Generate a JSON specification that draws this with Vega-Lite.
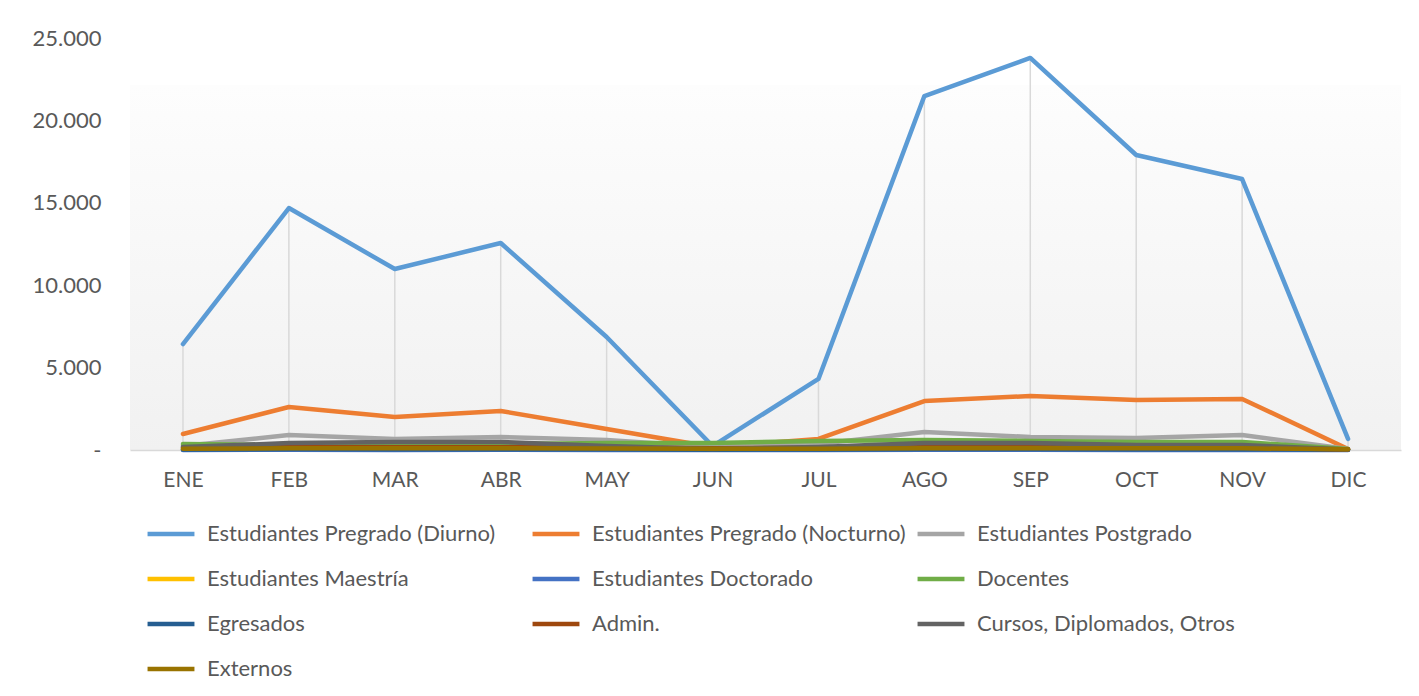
{
  "$schema": "https://vega.github.io/schema/vega-lite/v6.json",
  "width": 1271,
  "height": 412,
  "autosize": {"type": "none"},
  "padding": {"left": 130, "top": 38, "right": 18, "bottom": 246},
  "background": "#ffffff",
  "config": {
    "font": "Lato",
    "view": {
      "stroke": null,
      "fill": {"gradient": "linear", "x1": 0, "y1": 0, "x2": 0, "y2": 1,
        "stops": [
          {"offset": 0, "color": "#ffffff"},
          {"offset": 0.113, "color": "#ffffff"},
          {"offset": 0.115, "color": "#fdfdfd"},
          {"offset": 1, "color": "#f1f1f1"}
        ]}
    }
  },
  "data": {"values": [
    {"mes":"ENE","serie":"Estudiantes Pregrado (Diurno)","valor":6430},
    {"mes":"FEB","serie":"Estudiantes Pregrado (Diurno)","valor":14680},
    {"mes":"MAR","serie":"Estudiantes Pregrado (Diurno)","valor":10980},
    {"mes":"ABR","serie":"Estudiantes Pregrado (Diurno)","valor":12560},
    {"mes":"MAY","serie":"Estudiantes Pregrado (Diurno)","valor":6860},
    {"mes":"JUN","serie":"Estudiantes Pregrado (Diurno)","valor":240},
    {"mes":"JUL","serie":"Estudiantes Pregrado (Diurno)","valor":4310},
    {"mes":"AGO","serie":"Estudiantes Pregrado (Diurno)","valor":21480},
    {"mes":"SEP","serie":"Estudiantes Pregrado (Diurno)","valor":23790},
    {"mes":"OCT","serie":"Estudiantes Pregrado (Diurno)","valor":17900},
    {"mes":"NOV","serie":"Estudiantes Pregrado (Diurno)","valor":16440},
    {"mes":"DIC","serie":"Estudiantes Pregrado (Diurno)","valor":670},
    {"mes":"ENE","serie":"Estudiantes Pregrado (Nocturno)","valor":970},
    {"mes":"FEB","serie":"Estudiantes Pregrado (Nocturno)","valor":2610},
    {"mes":"MAR","serie":"Estudiantes Pregrado (Nocturno)","valor":2000},
    {"mes":"ABR","serie":"Estudiantes Pregrado (Nocturno)","valor":2370},
    {"mes":"MAY","serie":"Estudiantes Pregrado (Nocturno)","valor":1275},
    {"mes":"JUN","serie":"Estudiantes Pregrado (Nocturno)","valor":180},
    {"mes":"JUL","serie":"Estudiantes Pregrado (Nocturno)","valor":670},
    {"mes":"AGO","serie":"Estudiantes Pregrado (Nocturno)","valor":2970},
    {"mes":"SEP","serie":"Estudiantes Pregrado (Nocturno)","valor":3280},
    {"mes":"OCT","serie":"Estudiantes Pregrado (Nocturno)","valor":3035},
    {"mes":"NOV","serie":"Estudiantes Pregrado (Nocturno)","valor":3100},
    {"mes":"DIC","serie":"Estudiantes Pregrado (Nocturno)","valor":60},
    {"mes":"ENE","serie":"Estudiantes Postgrado","valor":240},
    {"mes":"FEB","serie":"Estudiantes Postgrado","valor":910},
    {"mes":"MAR","serie":"Estudiantes Postgrado","valor":670},
    {"mes":"ABR","serie":"Estudiantes Postgrado","valor":790},
    {"mes":"MAY","serie":"Estudiantes Postgrado","valor":600},
    {"mes":"JUN","serie":"Estudiantes Postgrado","valor":180},
    {"mes":"JUL","serie":"Estudiantes Postgrado","valor":360},
    {"mes":"AGO","serie":"Estudiantes Postgrado","valor":1090},
    {"mes":"SEP","serie":"Estudiantes Postgrado","valor":790},
    {"mes":"OCT","serie":"Estudiantes Postgrado","valor":730},
    {"mes":"NOV","serie":"Estudiantes Postgrado","valor":910},
    {"mes":"DIC","serie":"Estudiantes Postgrado","valor":60},
    {"mes":"ENE","serie":"Estudiantes Maestría","valor":40},
    {"mes":"FEB","serie":"Estudiantes Maestría","valor":50},
    {"mes":"MAR","serie":"Estudiantes Maestría","valor":50},
    {"mes":"ABR","serie":"Estudiantes Maestría","valor":50},
    {"mes":"MAY","serie":"Estudiantes Maestría","valor":40},
    {"mes":"JUN","serie":"Estudiantes Maestría","valor":20},
    {"mes":"JUL","serie":"Estudiantes Maestría","valor":30},
    {"mes":"AGO","serie":"Estudiantes Maestría","valor":50},
    {"mes":"SEP","serie":"Estudiantes Maestría","valor":50},
    {"mes":"OCT","serie":"Estudiantes Maestría","valor":40},
    {"mes":"NOV","serie":"Estudiantes Maestría","valor":40},
    {"mes":"DIC","serie":"Estudiantes Maestría","valor":10},
    {"mes":"ENE","serie":"Estudiantes Doctorado","valor":5},
    {"mes":"FEB","serie":"Estudiantes Doctorado","valor":10},
    {"mes":"MAR","serie":"Estudiantes Doctorado","valor":5},
    {"mes":"ABR","serie":"Estudiantes Doctorado","valor":10},
    {"mes":"MAY","serie":"Estudiantes Doctorado","valor":5},
    {"mes":"JUN","serie":"Estudiantes Doctorado","valor":0},
    {"mes":"JUL","serie":"Estudiantes Doctorado","valor":5},
    {"mes":"AGO","serie":"Estudiantes Doctorado","valor":10},
    {"mes":"SEP","serie":"Estudiantes Doctorado","valor":10},
    {"mes":"OCT","serie":"Estudiantes Doctorado","valor":5},
    {"mes":"NOV","serie":"Estudiantes Doctorado","valor":5},
    {"mes":"DIC","serie":"Estudiantes Doctorado","valor":0},
    {"mes":"ENE","serie":"Docentes","valor":360},
    {"mes":"FEB","serie":"Docentes","valor":300},
    {"mes":"MAR","serie":"Docentes","valor":300},
    {"mes":"ABR","serie":"Docentes","valor":360},
    {"mes":"MAY","serie":"Docentes","valor":420},
    {"mes":"JUN","serie":"Docentes","valor":420},
    {"mes":"JUL","serie":"Docentes","valor":550},
    {"mes":"AGO","serie":"Docentes","valor":600},
    {"mes":"SEP","serie":"Docentes","valor":550},
    {"mes":"OCT","serie":"Docentes","valor":485},
    {"mes":"NOV","serie":"Docentes","valor":485},
    {"mes":"DIC","serie":"Docentes","valor":60},
    {"mes":"ENE","serie":"Egresados","valor":30},
    {"mes":"FEB","serie":"Egresados","valor":60},
    {"mes":"MAR","serie":"Egresados","valor":50},
    {"mes":"ABR","serie":"Egresados","valor":50},
    {"mes":"MAY","serie":"Egresados","valor":40},
    {"mes":"JUN","serie":"Egresados","valor":20},
    {"mes":"JUL","serie":"Egresados","valor":30},
    {"mes":"AGO","serie":"Egresados","valor":60},
    {"mes":"SEP","serie":"Egresados","valor":60},
    {"mes":"OCT","serie":"Egresados","valor":50},
    {"mes":"NOV","serie":"Egresados","valor":50},
    {"mes":"DIC","serie":"Egresados","valor":10},
    {"mes":"ENE","serie":"Admin.","valor":130},
    {"mes":"FEB","serie":"Admin.","valor":160},
    {"mes":"MAR","serie":"Admin.","valor":160},
    {"mes":"ABR","serie":"Admin.","valor":170},
    {"mes":"MAY","serie":"Admin.","valor":150},
    {"mes":"JUN","serie":"Admin.","valor":100},
    {"mes":"JUL","serie":"Admin.","valor":130},
    {"mes":"AGO","serie":"Admin.","valor":170},
    {"mes":"SEP","serie":"Admin.","valor":170},
    {"mes":"OCT","serie":"Admin.","valor":160},
    {"mes":"NOV","serie":"Admin.","valor":160},
    {"mes":"DIC","serie":"Admin.","valor":30},
    {"mes":"ENE","serie":"Cursos, Diplomados, Otros","valor":180},
    {"mes":"FEB","serie":"Cursos, Diplomados, Otros","valor":420},
    {"mes":"MAR","serie":"Cursos, Diplomados, Otros","valor":485},
    {"mes":"ABR","serie":"Cursos, Diplomados, Otros","valor":485},
    {"mes":"MAY","serie":"Cursos, Diplomados, Otros","valor":240},
    {"mes":"JUN","serie":"Cursos, Diplomados, Otros","valor":60},
    {"mes":"JUL","serie":"Cursos, Diplomados, Otros","valor":180},
    {"mes":"AGO","serie":"Cursos, Diplomados, Otros","valor":420},
    {"mes":"SEP","serie":"Cursos, Diplomados, Otros","valor":420},
    {"mes":"OCT","serie":"Cursos, Diplomados, Otros","valor":300},
    {"mes":"NOV","serie":"Cursos, Diplomados, Otros","valor":300},
    {"mes":"DIC","serie":"Cursos, Diplomados, Otros","valor":30},
    {"mes":"ENE","serie":"Externos","valor":80},
    {"mes":"FEB","serie":"Externos","valor":100},
    {"mes":"MAR","serie":"Externos","valor":100},
    {"mes":"ABR","serie":"Externos","valor":100},
    {"mes":"MAY","serie":"Externos","valor":90},
    {"mes":"JUN","serie":"Externos","valor":70},
    {"mes":"JUL","serie":"Externos","valor":80},
    {"mes":"AGO","serie":"Externos","valor":100},
    {"mes":"SEP","serie":"Externos","valor":100},
    {"mes":"OCT","serie":"Externos","valor":100},
    {"mes":"NOV","serie":"Externos","valor":100},
    {"mes":"DIC","serie":"Externos","valor":40}
  ]},
  "encoding": {
    "x": {
      "field": "mes", "type": "ordinal",
      "sort": ["ENE","FEB","MAR","ABR","MAY","JUN","JUL","AGO","SEP","OCT","NOV","DIC"],
      "scale": {"type": "point", "padding": 0.5},
      "axis": {
        "title": null, "ticks": false, "grid": false,
        "domainColor": "#d9d9d9", "domainWidth": 1.5,
        "labelFont": "Lato", "labelFontSize": 21, "labelColor": "#595959",
        "labelPadding": 19, "labelAngle": 0
      }
    },
    "y": {
      "field": "valor", "type": "quantitative",
      "scale": {"domain": [0, 25000], "nice": false},
      "axis": {
        "title": null, "ticks": false, "grid": false, "domain": false,
        "values": [0, 5000, 10000, 15000, 20000, 25000],
        "labelExpr": "datum.value == 0 ? '-' : replace(format(datum.value, ','), ',', '.')",
        "labelFont": "Lato", "labelFontSize": 22, "labelColor": "#595959",
        "labelPadding": 29
      }
    }
  },
  "layer": [
    {
      "transform": [{"filter": "datum.serie == 'Estudiantes Pregrado (Diurno)'"}],
      "mark": {"type": "rule", "color": "#d9d9d9", "strokeWidth": 1.5},
      "encoding": {"y2": {"datum": 0}}
    },
    {
      "mark": {"type": "line", "strokeWidth": 4.5, "strokeCap": "round", "strokeJoin": "round"},
      "encoding": {
        "color": {
          "field": "serie", "type": "nominal",
          "scale": {
            "domain": ["Estudiantes Pregrado (Diurno)","Estudiantes Pregrado (Nocturno)","Estudiantes Postgrado","Estudiantes Maestría","Estudiantes Doctorado","Docentes","Egresados","Admin.","Cursos, Diplomados, Otros","Externos"],
            "range": ["#5b9bd5","#ed7d31","#a5a5a5","#ffc000","#4472c4","#70ad47","#255e91","#9e480e","#636363","#997300"]
          },
          "legend": {
            "title": null, "orient": "none", "legendX": 15, "legendY": 470,
            "direction": "horizontal", "columns": 3, "gridAlign": "all",
            "symbolType": "stroke", "symbolSize": 2200, "symbolStrokeWidth": 4.5,
            "labelFont": "Lato", "labelFontSize": 22, "labelColor": "#595959",
            "labelOffset": 10, "rowPadding": 8, "columnPadding": 2,
            "labelLimit": 400
          }
        }
      }
    }
  ]
}
